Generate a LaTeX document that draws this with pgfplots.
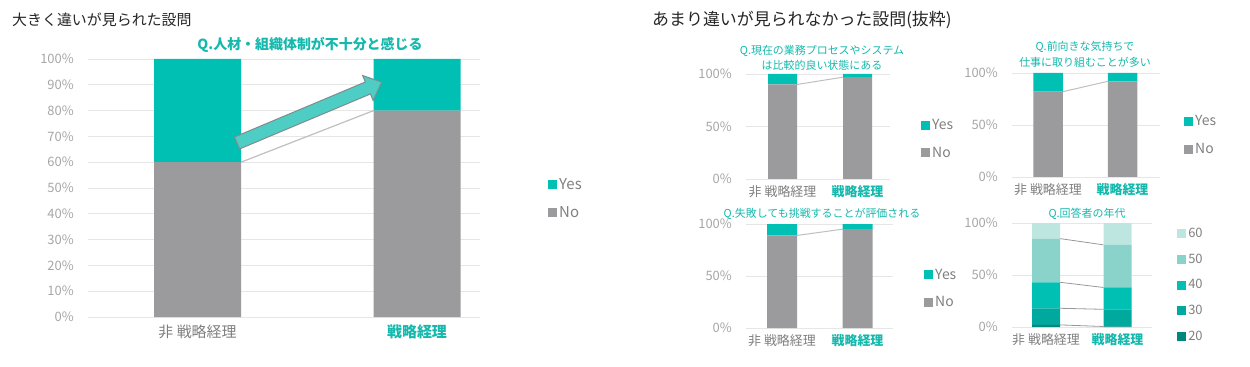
\documentclass[border=0pt]{standalone}
\usepackage{fontspec}
\setmainfont{Noto Sans CJK JP}
\usepackage{pgfplots}
\pgfplotsset{compat=1.18}
\definecolor{yesc}{HTML}{00BFB3}
\definecolor{noc}{HTML}{9B9B9D}
\definecolor{gridc}{HTML}{E6E6E6}
\definecolor{tickc}{HTML}{A6A6A6}
\definecolor{labc}{HTML}{7F7F7F}
\definecolor{tealt}{HTML}{14B8AC}
\definecolor{arrowfill}{HTML}{4ECDC4}
\definecolor{arrowline}{HTML}{7F8C8D}
\definecolor{linec}{HTML}{BFBFBF}
\definecolor{ca}{HTML}{00877D}
\definecolor{cb}{HTML}{00A99E}
\definecolor{cc}{HTML}{00BFB3}
\definecolor{cd}{HTML}{8AD3CB}
\definecolor{ce}{HTML}{BEE6E1}
\pgfplotsset{
  mybase/.style={
    scale only axis,
    ybar stacked,
    ymin=0, ymax=100,
    xtick={0,1},
    xticklabels={{\color{labc}非 戦略経理},{\color{tealt}\bfseries 戦略経理}},
    axis line style={draw=none},
    major tick length=0pt,
    ymajorgrids,
    grid style={gridc, line width=0.8bp},
    /pgf/number format/assume math mode=true,
    yticklabel={\pgfmathprintnumber{\tick}\%},
    yticklabel style={text=tickc, inner sep=0pt, anchor=east, xshift=-14bp},
    xticklabel style={inner sep=0pt, anchor=north, yshift=-6bp},
    tick label style={font=\fontsize{13}{15}\selectfont},
    legend style={draw=none, fill=none, inner sep=0pt, font=\fontsize{14}{16}\selectfont, text=labc, cells={anchor=west}},
    reverse legend,
    legend image code/.code={\fill[##1] (0bp,-4.5bp) rectangle (9bp,4.5bp);},
  }
}
\begin{document}
\begin{tikzpicture}[x=1bp,y=1bp]
\path[use as bounding box] (0,0) rectangle (1250,366);
% titles
\node[anchor=west, inner sep=0pt, font=\fontsize{15}{18}\selectfont, text=black!85] at (12,346) {大きく違いが見られた設問};
\node[anchor=west, inner sep=0pt, font=\fontsize{17}{19}\selectfont, text=black!85] at (652,346) {あまり違いが見られなかった設問(抜粋)};
% main chart
\begin{axis}[mybase, at={(88bp,49bp)}, width=392bp, height=258bp,
  xmin=-0.499, xmax=1.287, bar width=87bp, ytick={0,10,...,100},
  xticklabel style={font=\fontsize{15}{17}\selectfont, yshift=-2bp},
  legend style={at={(axis description cs:1.1735,0.546)}, anchor=north west, row sep=12bp, font=\fontsize{15}{17}\selectfont}]
\addplot[fill=noc, draw=none] coordinates {(0,60) (1,80)};
\addlegendentry{No}
\addplot[fill=yesc, draw=none] coordinates {(0,40) (1,20)};
\addlegendentry{Yes}
\draw[linec, line width=1.2bp] (axis cs:0.198,60) -- (axis cs:0.802,80);
\end{axis}
\begin{scope}[shift={(237,223)}, rotate=22.8]
\draw[draw=arrowline, fill=arrowfill, line width=1bp, line join=miter]
  (0,-6.5) -- (142,-6.5) -- (142,-13.5) -- (157,0) -- (142,13.5) -- (142,6.5) -- (0,6.5) -- cycle;
\end{scope}
\node[font=\fontsize{14}{16}\selectfont\bfseries, text=tealt, inner sep=0pt] at (310,321) {Q.人材・組織体制が不十分と感じる};
% sub A
\begin{axis}[mybase, at={(746bp,187bp)}, width=144bp, height=105bp,
  xmin=-0.487, xmax=1.433, bar width=29bp, ytick={0,50,100},
  legend style={at={(axis description cs:1.215,0.59)}, anchor=north west, row sep=12bp}]
\addplot[fill=noc, draw=none] coordinates {(0,90) (1,97)};
\addlegendentry{No}
\addplot[fill=yesc, draw=none] coordinates {(0,10) (1,3)};
\addlegendentry{Yes}
\draw[linec, line width=1bp] (axis cs:0.193,90) -- (axis cs:0.807,97);
\end{axis}
\node[font=\fontsize{11}{13}\selectfont, text=tealt, inner sep=0pt] at (822,315) {Q.現在の業務プロセスやシステム};
\node[font=\fontsize{11}{13}\selectfont, text=tealt, inner sep=0pt] at (822,301) {は比較的良い状態にある};
% sub B
\begin{axis}[mybase, at={(1012bp,189bp)}, width=148bp, height=104bp,
  xmin=-0.483, xmax=1.503, bar width=29.5bp, ytick={0,50,100},
  legend style={at={(axis description cs:1.162,0.61)}, anchor=north west, row sep=12bp}]
\addplot[fill=noc, draw=none] coordinates {(0,82) (1,92)};
\addlegendentry{No}
\addplot[fill=yesc, draw=none] coordinates {(0,18) (1,8)};
\addlegendentry{Yes}
\draw[linec, line width=1bp] (axis cs:0.198,82) -- (axis cs:0.802,92);
\end{axis}
\node[font=\fontsize{11}{13}\selectfont, text=tealt, inner sep=0pt] at (1085,319) {Q.前向きな気持ちで};
\node[font=\fontsize{11}{13}\selectfont, text=tealt, inner sep=0pt] at (1085,304) {仕事に取り組むことが多い};
% sub C
\begin{axis}[mybase, at={(746bp,38bp)}, width=147bp, height=104bp,
  xmin=-0.477, xmax=1.470, bar width=30bp, ytick={0,50,100},
  legend style={at={(axis description cs:1.211,0.59)}, anchor=north west, row sep=12bp}]
\addplot[fill=noc, draw=none] coordinates {(0,89) (1,95)};
\addlegendentry{No}
\addplot[fill=yesc, draw=none] coordinates {(0,11) (1,5)};
\addlegendentry{Yes}
\draw[linec, line width=1bp] (axis cs:0.199,89) -- (axis cs:0.801,95);
\end{axis}
\node[font=\fontsize{11}{13}\selectfont, text=tealt, inner sep=0pt] at (822,152) {Q.失敗しても挑戦することが評価される};
% sub D
\begin{axis}[mybase, at={(1012bp,39bp)}, width=140bp, height=104bp,
  xmin=-0.476, xmax=1.483, bar width=28bp, ytick={0,50,100},
  legend style={at={(axis description cs:1.179,0.975)}, anchor=north west, row sep=11bp, font=\fontsize{13}{15}\selectfont}]
\addplot[fill=ca, draw=none] coordinates {(0,2) (1,0.5)};
\addlegendentry{20}
\addplot[fill=cb, draw=none] coordinates {(0,16) (1,16.5)};
\addlegendentry{30}
\addplot[fill=cc, draw=none] coordinates {(0,25) (1,21)};
\addlegendentry{40}
\addplot[fill=cd, draw=none] coordinates {(0,42) (1,41)};
\addlegendentry{50}
\addplot[fill=ce, draw=none] coordinates {(0,15) (1,21)};
\addlegendentry{60}
\draw[linec!80!black, line width=0.8bp] (axis cs:0.196,2) -- (axis cs:0.804,0.5);
\draw[linec!80!black, line width=0.8bp] (axis cs:0.196,18) -- (axis cs:0.804,17);
\draw[linec!80!black, line width=0.8bp] (axis cs:0.196,43) -- (axis cs:0.804,38);
\draw[linec!80!black, line width=0.8bp] (axis cs:0.196,85) -- (axis cs:0.804,79);
\end{axis}
\node[font=\fontsize{11}{13}\selectfont, text=tealt, inner sep=0pt] at (1087,152) {Q.回答者の年代};
\end{tikzpicture}
\end{document}
